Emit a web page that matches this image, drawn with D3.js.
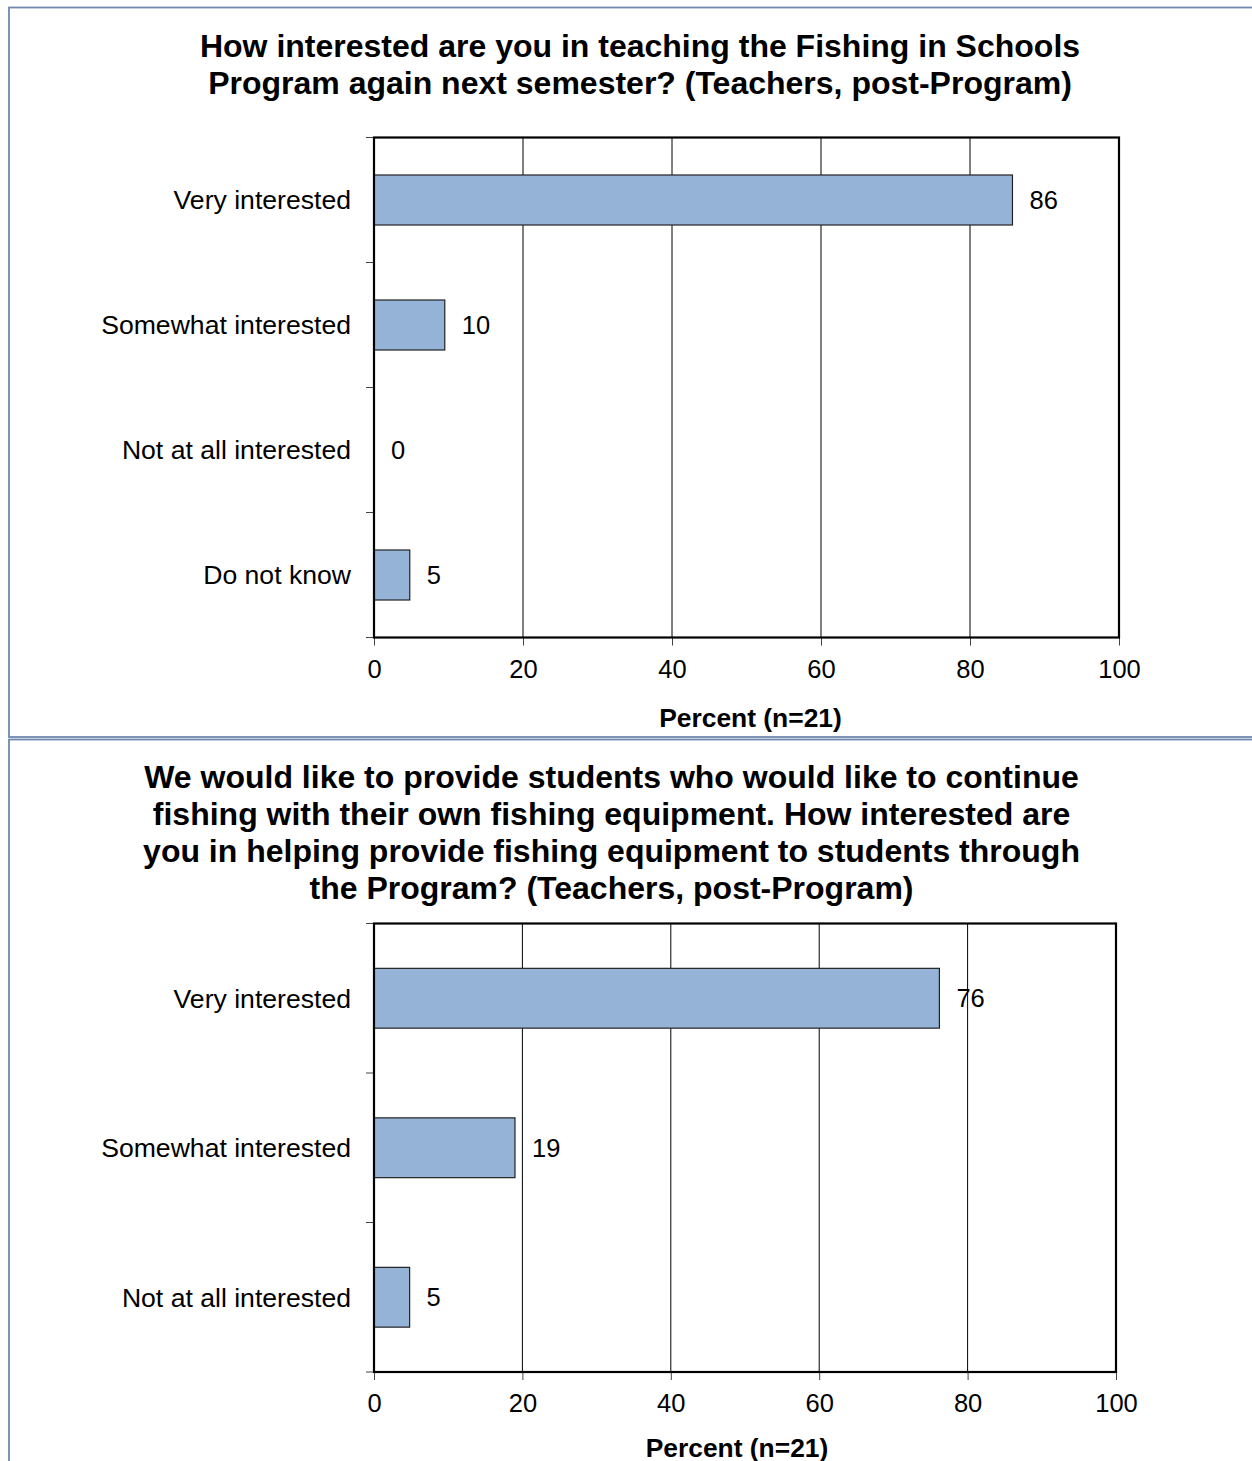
<!DOCTYPE html>
<html>
<head>
<meta charset="utf-8">
<script src="https://cdn.jsdelivr.net/npm/d3@7"></script>
<style>
  html, body { margin: 0; padding: 0; background: #ffffff; }
  svg { display: block; font-family: Arial, "Liberation Sans", sans-serif; }
</style>
</head>
<body>
<svg id="chart" width="1252" height="1461"></svg>
<script>
// ---- Data ----
const chart1Title = ["How interested are you in teaching the Fishing in Schools",
                     "Program again next semester? (Teachers, post-Program)"];
const chart1Categories = ["Very interested", "Somewhat interested", "Not at all interested", "Do not know"];
const chart1Values = [85.7, 9.5, 0, 4.8];

const chart2Title = ["We would like to provide students who would like to continue",
                     "fishing with their own fishing equipment. How interested are",
                     "you in helping provide fishing equipment to students through",
                     "the Program? (Teachers, post-Program)"];
const chart2Categories = ["Very interested", "Somewhat interested", "Not at all interested"];
const chart2Values = [76.2, 19.0, 4.8];

const xTicks = [0, 20, 40, 60, 80, 100];
const xAxisTitle = "Percent (n=21)";

// ---- Layout ----
const svg = d3.select("#chart");
const panelColor = "#7088ad";
const barFill = "#95b3d7";
const fmt = d3.format(".0f");

// panel borders
svg.append("rect").attr("x", 9).attr("y", 7.5).attr("width", 1260).attr("height", 729.5)
  .attr("fill", "none").attr("stroke", panelColor).attr("stroke-width", 1.8);
svg.append("rect").attr("x", 9).attr("y", 739.5).attr("width", 1260).attr("height", 740)
  .attr("fill", "none").attr("stroke", panelColor).attr("stroke-width", 1.8);

function drawChart(cfg) {
  const g = svg.append("g");
  // title
  const t = g.append("text").attr("text-anchor", "middle")
    .attr("font-size", 32).attr("font-weight", "bold").attr("fill", "#000");
  cfg.title.forEach((line, i) => {
    t.append("tspan").attr("x", cfg.titleX).attr("y", cfg.titleY + i * 36.8).attr("dy", "0.35em").text(line);
  });

  const x = d3.scaleLinear().domain([0, 100]).range([cfg.left, cfg.right]);
  const y = d3.scaleBand().domain(cfg.categories).range([cfg.top, cfg.bottom]).padding(0);
  const bw = y.bandwidth();

  // gridlines
  g.append("g").selectAll("line").data(xTicks.filter(d => d > 0 && d < 100)).join("line")
    .attr("x1", d => x(d)).attr("x2", d => x(d))
    .attr("y1", cfg.top).attr("y2", cfg.bottom)
    .attr("stroke", "#000").attr("stroke-width", 1);

  // bars
  g.append("g").selectAll("rect").data(cfg.values).join("rect")
    .attr("x", x(0))
    .attr("y", (d, i) => y(cfg.categories[i]) + bw * 0.3)
    .attr("width", d => x(d) - x(0))
    .attr("height", bw * 0.4)
    .attr("fill", barFill)
    .attr("stroke", "#222").attr("stroke-width", 1.2)
    .attr("display", d => d > 0 ? null : "none");

  // value labels
  g.append("g").selectAll("text").data(cfg.values).join("text")
    .attr("x", d => x(d) + 17)
    .attr("y", (d, i) => y(cfg.categories[i]) + bw / 2)
    .attr("dy", "0.35em")
    .attr("font-size", 25.5).attr("fill", "#000")
    .text(d => fmt(d));

  // category labels
  g.append("g").selectAll("text").data(cfg.categories).join("text")
    .attr("x", cfg.left - 23)
    .attr("y", d => y(d) + bw / 2)
    .attr("dy", "0.35em")
    .attr("text-anchor", "end")
    .attr("font-size", 26.6).attr("fill", "#000")
    .text(d => d);

  // y boundary ticks
  const bounds = cfg.categories.map(c => y(c)).concat([cfg.bottom]);
  g.append("g").selectAll("line").data(bounds).join("line")
    .attr("x1", cfg.left - 8).attr("x2", cfg.left)
    .attr("y1", d => d).attr("y2", d => d)
    .attr("stroke", "#444").attr("stroke-width", 1);

  // x axis
  const xAxis = d3.axisBottom(x).tickValues(xTicks).tickSize(8).tickPadding(14).tickFormat(d3.format("d"));
  const ax = g.append("g").attr("transform", `translate(0,${cfg.bottom})`).call(xAxis);
  ax.select(".domain").remove();
  ax.selectAll(".tick line").attr("stroke", "#444");
  ax.selectAll(".tick text").attr("font-size", 25.5).attr("fill", "#000")
    .attr("font-family", "Arial, 'Liberation Sans', sans-serif");

  // plot frame
  g.append("rect").attr("x", cfg.left).attr("y", cfg.top)
    .attr("width", cfg.right - cfg.left).attr("height", cfg.bottom - cfg.top)
    .attr("fill", "none").attr("stroke", "#000").attr("stroke-width", 2.2);

  // axis title
  g.append("text").attr("x", (cfg.left + cfg.right) / 2 + cfg.axisTitleShift)
    .attr("y", cfg.bottom + cfg.axisTitleOffset).attr("dy", "0.35em")
    .attr("text-anchor", "middle").attr("font-size", 26.4).attr("font-weight", "bold")
    .attr("fill", "#000").text(xAxisTitle);
}

drawChart({
  title: chart1Title, titleX: 640, titleY: 46,
  categories: chart1Categories, values: chart1Values,
  left: 374, right: 1119, top: 137.5, bottom: 637.5, axisTitleShift: 4, axisTitleOffset: 80
});

drawChart({
  title: chart2Title, titleX: 611.5, titleY: 777,
  categories: chart2Categories, values: chart2Values,
  left: 374, right: 1116, top: 923.5, bottom: 1372, axisTitleShift: -8, axisTitleOffset: 76
});
</script>
</body>
</html>
